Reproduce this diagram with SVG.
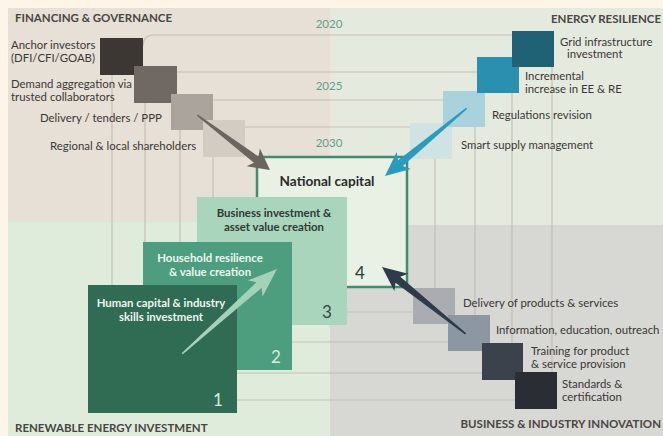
<svg xmlns="http://www.w3.org/2000/svg" width="663" height="436" viewBox="0 0 663 436">
<style>
text{font-family:Lato,"Open Sans","Liberation Sans",sans-serif}
.lbl{font-size:11.4px;fill:#3a3835}
.hd{font-size:11.5px;font-weight:bold;fill:#4a4642}
.yr{font-size:11.5px;fill:#5f9f88;text-anchor:middle}
.wt{font-size:11.4px;font-weight:bold;fill:#eef6f0;text-anchor:middle}
.bt{font-size:11.4px;font-weight:bold;fill:#2f3a33;text-anchor:middle}
.num{font-size:17px}
.ln{fill:none;stroke:#bfb9b0;stroke-width:1.2;opacity:0.85}
</style>
<defs>
<path id="arr" d="M -100,-0.8 L -19,-3.8 L -23,-11 L 0,0 L -23,11 L -19,3.8 L -100,0.8 Z"/>
</defs>
<rect x="0" y="0" width="663" height="436" fill="#fdf6e8"/>
<rect x="8" y="8" width="322" height="214" fill="#e7e0d6"/>
<rect x="330" y="8" width="333" height="217" fill="#e5eadf"/>
<rect x="8" y="222" width="322" height="214" fill="#dfecdc"/>
<rect x="330" y="225" width="333" height="211" fill="#d7d7d3"/>

<g id="connectors">
<path class="ln" d="M 143,46 Q 143,35 154,35 L 540,35 Q 552,35 552,47 L 552,388 Q 552,400 540,400 L 124,400 Q 112,400 112,388 L 112,75"/>
<path class="ln" d="M 145,84 Q 145,72 157,72 L 500,72 Q 512,72 512,84 L 512,361 Q 512,373 500,373 L 157,373 Q 145,373 145,361 Z"/>
<path class="ln" d="M 180,112 Q 180,100 192,100 L 463,100 Q 475,100 475,112 L 475,330 Q 475,342 463,342 L 192,342 Q 180,342 180,330 Z"/>
<path class="ln" d="M 213,139 Q 213,127 225,127 L 423,127 Q 435,127 435,139 L 435,300 Q 435,312 423,312 L 225,312 Q 213,312 213,300 Z"/>
</g>

<g id="years">
<text class="yr" x="329" y="28">2020</text>
<text class="yr" x="329" y="90">2025</text>
<text class="yr" x="329" y="147">2030</text>
</g>

<g id="national-capital">
<rect x="257" y="157" width="150" height="130" fill="#e8f1e4" stroke="#3f8d6c" stroke-width="2.5"/>
<text x="327" y="186" font-size="13.6" font-weight="bold" fill="#2b2b2b" text-anchor="middle">National capital</text>
<text class="num" x="360" y="279" fill="#2f3a33" text-anchor="middle">4</text>
</g>
<g id="business">
<rect x="197" y="197" width="150" height="128" fill="#a9d5bd"/>
<text class="bt" x="274" y="217">Business investment &amp;</text>
<text class="bt" x="274" y="231">asset value creation</text>
<text class="num" x="327" y="318" fill="#2f4a3c" text-anchor="middle">3</text>
</g>
<g id="household">
<rect x="143" y="242" width="149" height="128" fill="#4c9e7f"/>
<text class="wt" x="210" y="262">Household resilience</text>
<text class="wt" x="210" y="276">&amp; value creation</text>
<text class="num" x="276" y="363" fill="#d5ece0" text-anchor="middle">2</text>
</g>
<g id="human-capital">
<rect x="88" y="285" width="149" height="128" fill="#2f6c53"/>
<text class="wt" x="161" y="307">Human capital &amp; industry</text>
<text class="wt" x="161" y="321">skills investment</text>
<text class="num" x="218" y="406" fill="#d5ece0" text-anchor="middle">1</text>
</g>

<g id="financing-governance">
<text class="hd" x="15" y="22">FINANCING &amp; GOVERNANCE</text>
<g id="anchor"><rect x="100" y="38" width="43" height="37" fill="#3d3733"/>
<text class="lbl" x="11" y="49">Anchor investors</text><text class="lbl" x="11" y="62">(DFI/CFI/GOAB)</text></g>
<g id="demand"><rect x="134" y="66" width="43" height="37" fill="#6f6863"/>
<text class="lbl" x="11" y="88">Demand aggregation via</text><text class="lbl" x="11" y="101">trusted collaborators</text></g>
<g id="delivery-tenders"><rect x="171" y="94" width="42" height="36" fill="#aaa49c"/>
<text class="lbl" x="40" y="122">Delivery  / tenders / PPP</text></g>
<g id="regional"><rect x="203" y="120" width="42" height="37" fill="#d3ccc3"/>
<text class="lbl" x="50" y="150">Regional &amp; local shareholders</text></g>
</g>

<g id="energy-resilience">
<text class="hd" x="661" y="23" text-anchor="end">ENERGY RESILIENCE</text>
<g id="smart"><rect x="410" y="123" width="42" height="36" fill="#cfe3e2"/>
<text class="lbl" x="461" y="149">Smart supply management</text></g>
<g id="regulations"><rect x="443" y="91" width="42" height="36" fill="#a9d2dd"/>
<text class="lbl" x="492" y="119">Regulations revision</text></g>
<g id="incremental"><rect x="477" y="57" width="42" height="36" fill="#2a90b0"/>
<text class="lbl" x="525" y="80">Incremental</text><text class="lbl" x="525" y="93">increase in EE &amp; RE</text></g>
<g id="grid"><rect x="512" y="31" width="42" height="36" fill="#1f6275"/>
<text class="lbl" x="560" y="46">Grid infrastructure</text><text class="lbl" x="567" y="58">investment</text></g>
</g>

<g id="business-innovation">
<text class="hd" x="661" y="428" text-anchor="end">BUSINESS &amp; INDUSTRY INNOVATION</text>
<g id="delivery-products"><rect x="413" y="288" width="42" height="36" fill="#a9adb1"/>
<text class="lbl" x="463" y="307">Delivery of products &amp; services</text></g>
<g id="information"><rect x="448" y="315" width="42" height="36" fill="#8c97a2"/>
<text class="lbl" x="496" y="334">Information, education, outreach</text></g>
<g id="training"><rect x="482" y="343" width="41" height="37" fill="#3b424c"/>
<text class="lbl" x="531" y="355">Training for product</text><text class="lbl" x="531" y="368">&amp; service provision</text></g>
<g id="standards"><rect x="515" y="372" width="42" height="37" fill="#2a2e34"/>
<text class="lbl" x="562" y="388">Standards &amp;</text><text class="lbl" x="562" y="401">certification</text></g>
</g>

<g id="renewable-energy">
<text class="hd" x="15" y="432">RENEWABLE ENERGY INVESTMENT</text>
</g>

<g id="arrows">
<use href="#arr" fill="#6b6560" transform="translate(270,170) rotate(37) scale(0.91,1)"/>
<use href="#arr" fill="#2a9bc0" transform="translate(385,176) rotate(140.3) scale(1.06,1)"/>
<use href="#arr" fill="#2e3b4a" transform="translate(382,267) rotate(218.6) scale(1.07,1)"/>
<use href="#arr" fill="#a3d2b9" transform="translate(277,269) rotate(-41.8) scale(1.27,1)"/>
</g>
</svg>
